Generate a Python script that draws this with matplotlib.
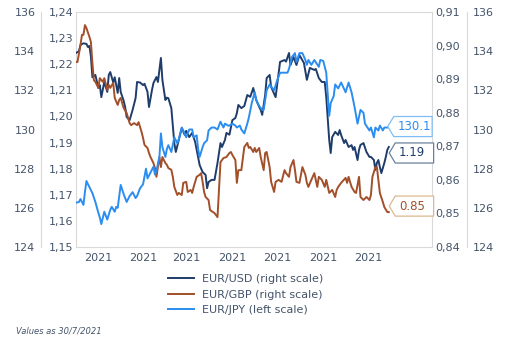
import matplotlib

matplotlib.use("Agg")
import matplotlib.dates as mdates
import matplotlib.pyplot as plt
import numpy as np
from matplotlib.path import Path
from matplotlib.ticker import FuncFormatter

START = np.datetime64("2021-01-01")

# days since 1 Jan 2021
usd_days = [0, 2, 3, 5, 7, 8, 9, 10, 11, 13, 15, 16, 17, 19, 21, 22, 23, 25, 26, 28,
            29, 30, 32, 33, 34, 36, 38, 40, 41, 43, 45, 46, 48, 49, 51, 52, 54, 55, 57, 58,
            60, 61, 62, 64, 66, 67, 69, 71, 73, 74, 76, 78, 80, 81, 83, 85, 87, 88, 89, 91,
            93, 95, 97, 98, 100, 101, 103, 105, 107, 108, 109, 111, 113, 115, 117, 119, 121,
            123, 124, 125, 127, 128, 130, 131, 134, 135, 137, 140, 141, 143, 144, 146, 148,
            150, 153, 155, 157, 160, 161, 163, 165, 167, 168, 170, 171, 172, 174, 176, 177,
            178, 180, 181, 183, 185, 186, 187, 189, 190, 191, 193, 195, 197, 198, 200, 201,
            202, 203, 204, 205, 207, 208, 209, 210]
usd_vals = [1.2243, 1.2250, 1.2274, 1.2280, 1.2278, 1.2266, 1.2270, 1.2230, 1.2150, 1.2159,
            1.2109, 1.2120, 1.2074, 1.2132, 1.2094, 1.2159, 1.2170, 1.2130, 1.2150, 1.2090,
            1.2147, 1.2094, 1.2060, 1.2036, 1.1998, 1.1986, 1.2025, 1.2070, 1.2132, 1.2130,
            1.2120, 1.2125, 1.2094, 1.2036, 1.2101, 1.2128, 1.2151, 1.2132, 1.2224, 1.2140,
            1.2063, 1.2072, 1.2070, 1.2032, 1.1898, 1.1864, 1.1910, 1.1956, 1.1929, 1.1945,
            1.1921, 1.1937, 1.1902, 1.1872, 1.1814, 1.1787, 1.1776, 1.1725, 1.1749, 1.1757,
            1.1757, 1.1822, 1.1898, 1.1883, 1.1910, 1.1937, 1.1930, 1.1986, 1.1994, 1.2013,
            1.2044, 1.2032, 1.2040, 1.2082, 1.2075, 1.2109, 1.2063, 1.2036, 1.2025, 1.2006,
            1.2082, 1.2147, 1.2159, 1.2113, 1.2074, 1.2120, 1.2209, 1.2216, 1.2210, 1.2243,
            1.2197, 1.2228, 1.2197, 1.2235, 1.2205, 1.2140, 1.2186, 1.2178, 1.2182, 1.2147,
            1.2132, 1.2132, 1.2074, 1.1910, 1.1860, 1.1921, 1.1941, 1.1929, 1.1948, 1.1929,
            1.1898, 1.1910, 1.1883, 1.1890, 1.1872, 1.1883, 1.1833, 1.1872, 1.1891, 1.1898,
            1.1864, 1.1845, 1.1845, 1.1833, 1.1795, 1.1822, 1.1833, 1.1806, 1.1783, 1.1822,
            1.1845, 1.1872, 1.1883]

gbp_days = [0, 1, 3, 4, 5, 6, 7, 9, 10, 11, 12, 13, 15, 16, 18, 19, 21, 22, 23, 25,
            26, 28, 29, 30, 32, 34, 36, 37, 39, 41, 42, 44, 45, 46, 48, 49, 50, 52, 53, 54,
            56, 57, 58, 60, 61, 62, 64, 65, 66, 68, 69, 71, 72, 74, 75, 77, 78, 79, 81, 83,
            84, 85, 86, 87, 89, 90, 92, 93, 95, 96, 97, 99, 101, 103, 104, 105, 107, 108,
            109, 111, 113, 115, 116, 117, 119, 120, 121, 123, 124, 126, 127, 128, 130, 131,
            133, 134, 136, 138, 140, 141, 143, 144, 146, 147, 148, 150, 152, 154, 155, 156,
            158, 160, 162, 163, 165, 167, 168, 170, 172, 174, 175, 176, 178, 181, 182, 183,
            185, 187, 188, 190, 191, 193, 195, 197, 198, 199, 201, 202, 203, 204, 206, 207,
            209, 210]
gbp_vals = [0.8951, 0.8951, 0.9002, 0.9032, 0.9032, 0.9061, 0.9052, 0.9026, 0.9011, 0.8948,
            0.8897, 0.8892, 0.8874, 0.8903, 0.8892, 0.8903, 0.8868, 0.8883, 0.8874, 0.8889,
            0.8844, 0.8823, 0.8838, 0.8844, 0.8814, 0.8799, 0.8769, 0.8763, 0.8769, 0.8763,
            0.8772, 0.8743, 0.8725, 0.8704, 0.8695, 0.8680, 0.8668, 0.8650, 0.8635, 0.8609,
            0.8668, 0.8638, 0.8668, 0.8650, 0.8645, 0.8635, 0.8630, 0.8609, 0.8579, 0.8555,
            0.8561, 0.8555, 0.8591, 0.8594, 0.8564, 0.8570, 0.8561, 0.8579, 0.8609, 0.8615,
            0.8620, 0.8594, 0.8564, 0.8549, 0.8540, 0.8510, 0.8504, 0.8501, 0.8489, 0.8570,
            0.8653, 0.8665, 0.8668, 0.8680, 0.8683, 0.8674, 0.8659, 0.8591, 0.8629, 0.8629,
            0.8698, 0.8710, 0.8695, 0.8698, 0.8683, 0.8695, 0.8683, 0.8695, 0.8668, 0.8629,
            0.8680, 0.8683, 0.8638, 0.8594, 0.8564, 0.8594, 0.8600, 0.8594, 0.8629, 0.8620,
            0.8609, 0.8638, 0.8659, 0.8629, 0.8594, 0.8591, 0.8638, 0.8615, 0.8591, 0.8579,
            0.8600, 0.8620, 0.8579, 0.8609, 0.8600, 0.8579, 0.8600, 0.8561, 0.8570, 0.8549,
            0.8570, 0.8579, 0.8591, 0.8606, 0.8591, 0.8609, 0.8579, 0.8564, 0.8561, 0.8609,
            0.8549, 0.8540, 0.8549, 0.8540, 0.8555, 0.8609, 0.8638, 0.8638, 0.8600, 0.8561,
            0.8534, 0.8519, 0.8504, 0.8504]

jpy_days = [0, 2, 3, 5, 6, 7, 9, 11, 13, 15, 16, 17, 19, 21, 23, 24, 26, 27, 28, 30,
            32, 34, 36, 38, 40, 41, 43, 45, 47, 48, 50, 52, 53, 54, 56, 57, 58, 60, 61, 62,
            64, 66, 68, 69, 71, 73, 74, 76, 78, 79, 81, 82, 83, 85, 86, 88, 89, 91, 93, 95,
            97, 99, 100, 102, 103, 105, 107, 108, 110, 111, 113, 115, 116, 118, 120, 121,
            123, 125, 126, 128, 130, 133, 135, 137, 140, 142, 143, 145, 147, 148, 150, 152,
            154, 155, 156, 158, 160, 163, 164, 166, 168, 170, 171, 173, 174, 176, 178, 181,
            183, 185, 187, 189, 191, 193, 194, 197, 198, 200, 201, 203, 204, 206, 207, 209]
jpy_vals = [126.26, 126.3, 126.45, 126.15, 126.8, 127.37, 127.06, 126.75, 126.3, 125.75,
            125.5, 125.17, 125.8, 125.4, 125.9, 126.05, 125.8, 126.05, 126.0, 127.17,
            126.7, 126.3, 126.6, 126.8, 126.5, 126.6, 127.0, 127.2, 128.0, 127.5,
            127.8, 128.1, 127.7, 127.9, 128.6, 129.8, 129.1, 128.6, 129.0, 129.2,
            128.85, 129.6, 129.3, 129.5, 130.1, 129.8, 129.6, 130.0, 130.0, 129.6,
            129.7, 129.0, 128.6, 129.1, 129.3, 129.45, 129.95, 130.1, 130.1, 130.0,
            130.4, 130.1, 130.3, 130.2, 130.2, 130.3, 130.2, 130.1, 130.2, 130.0,
            129.8, 130.3, 130.6, 131.35, 131.9, 131.5, 131.2, 131.0, 131.0, 132.0,
            132.3, 132.0, 132.5, 132.9, 132.9, 132.9, 133.1, 133.7, 133.9, 133.45,
            133.9, 133.9, 133.55, 133.3, 133.55, 133.3, 133.55, 133.2, 133.55, 133.5,
            132.9, 130.7, 131.35, 131.7, 132.3, 132.1, 132.4, 131.9, 132.4, 131.9,
            131.15, 130.3, 131.0, 130.85, 130.3, 129.95, 130.1, 129.6, 130.1, 129.95,
            130.2, 129.95, 130.1, 130.1]

usd_ticks = [1.15, 1.16, 1.17, 1.18, 1.19, 1.20, 1.21, 1.22, 1.23, 1.24]
gbp_ticks = [0.84, 0.85, 0.86, 0.87, 0.88, 0.89, 0.90, 0.91]
jpy_ticks = [124, 126, 128, 130, 132, 134, 136]
month_ticks = ["2021-01-16", "2021-02-15", "2021-03-16", "2021-04-16",
               "2021-05-16", "2021-06-16", "2021-07-16"]
end_labels = ["1.19", "0.85", "130.1"]
legend_labels = ["EUR/USD (right scale)", "EUR/GBP (right scale)", "EUR/JPY (left scale)"]

C_USD, C_GBP, C_JPY = "#1f3d6b", "#a24f2a", "#2b8df0"
TXT, FRAME = "#44546a", "#d9d9d9"


def dates(days):
    return START + np.array(days).astype("timedelta64[D]")


def comma(v, _):
    return f"{v:.2f}".replace(".", ",")


class TagBox:
    """Box with a short pointed left side, fixed width (in font-size units)."""

    def __init__(self, width):
        self.width = width

    def __call__(self, x0, y0, width, height, mutation_size):
        pad = 0.3 * mutation_size
        bottom, top = y0 - pad, y0 + height + pad
        left = x0 - pad
        right = left + self.width * mutation_size
        tip = left - 0.3 * (top - bottom)
        verts = [(left, bottom), (right, bottom), (right, top), (left, top),
                 (tip, (top + bottom) / 2), (left, bottom)]
        return Path(verts, closed=True)


plt.rcParams["font.family"] = "DejaVu Sans"
fig = plt.figure(figsize=(5.12, 3.55), dpi=100)
ax = fig.add_axes([76 / 512, 1 - 247 / 355, 356 / 512, 235 / 355])
gbp_ax = ax.twinx()
jpy_ax = ax.twinx()

l_usd, = ax.plot(dates(usd_days), usd_vals, color=C_USD, lw=1.4, zorder=3)
l_gbp, = gbp_ax.plot(dates(gbp_days), gbp_vals, color=C_GBP, lw=1.4)
l_jpy, = jpy_ax.plot(dates(jpy_days), jpy_vals, color=C_JPY, lw=1.4)

ax.set_xlim(START, START + np.timedelta64(239, "D"))
ax.set_xticks([np.datetime64(d) for d in month_ticks])
ax.xaxis.set_major_formatter(mdates.DateFormatter("%Y"))
ax.tick_params(axis="x", length=0, pad=4, labelsize=8, labelcolor=TXT)

ax.set_ylim(1.15, 1.24)
ax.set_yticks(usd_ticks)
ax.yaxis.set_major_formatter(FuncFormatter(comma))
ax.tick_params(axis="y", length=0, pad=2, labelsize=8, labelcolor=TXT)
for s in ax.spines.values():
    s.set_color(FRAME)
    s.set_linewidth(0.8)

gbp_ax.set_ylim(0.84, 0.91)
gbp_ax.set_yticks(gbp_ticks)
gbp_ax.yaxis.set_major_formatter(FuncFormatter(comma))
gbp_ax.tick_params(axis="y", length=0, pad=2, labelsize=8, labelcolor=TXT)
for s in gbp_ax.spines.values():
    s.set_visible(False)

jpy_ax.set_ylim(124, 136)
jpy_ax.set_yticks(jpy_ticks)
jpy_ax.yaxis.set_ticks_position("both")
jpy_ax.tick_params(axis="y", length=0, pad=4, labelsize=8, labelcolor=TXT,
                   labelleft=True, labelright=True)
for side in ("top", "bottom"):
    jpy_ax.spines[side].set_visible(False)
for side in ("left", "right"):
    jpy_ax.spines[side].set_visible(True)
    jpy_ax.spines[side].set_position(("outward", 25.2))
    jpy_ax.spines[side].set_color(FRAME)
    jpy_ax.spines[side].set_linewidth(0.8)

# end-of-series value tags
tags = [(ax, usd_days, usd_vals, end_labels[0], C_USD, "#6a819c", -6),
        (gbp_ax, gbp_days, gbp_vals, end_labels[1], C_GBP, "#dcb890", 6),
        (jpy_ax, jpy_days, jpy_vals, end_labels[2], C_JPY, "#80bdf6", 1)]
for a, d, v, txt, col, edge, dy in tags:
    a.annotate(txt, xy=(dates(d[-1:])[0], v[-1]), xytext=(10, dy),
               textcoords="offset pixels", ha="left", va="center", fontsize=8.5,
               color=col, zorder=5, annotation_clip=False,
               bbox=dict(boxstyle=TagBox(3.25), fc="white", ec=edge, lw=0.9))

fig.legend([l_usd, l_gbp, l_jpy], legend_labels, loc="upper left",
           bbox_to_anchor=(168 / 512, 1 - 274 / 355), frameon=False, fontsize=8,
           labelcolor=TXT, handlelength=2.3, handletextpad=0.8, labelspacing=0.5,
           borderpad=0, borderaxespad=0)
fig.text(16 / 512, 1 - 331 / 355, "Values as 30/7/2021", fontsize=6,
         style="italic", color=TXT, va="center")

fig.savefig("out.png", dpi=100)
